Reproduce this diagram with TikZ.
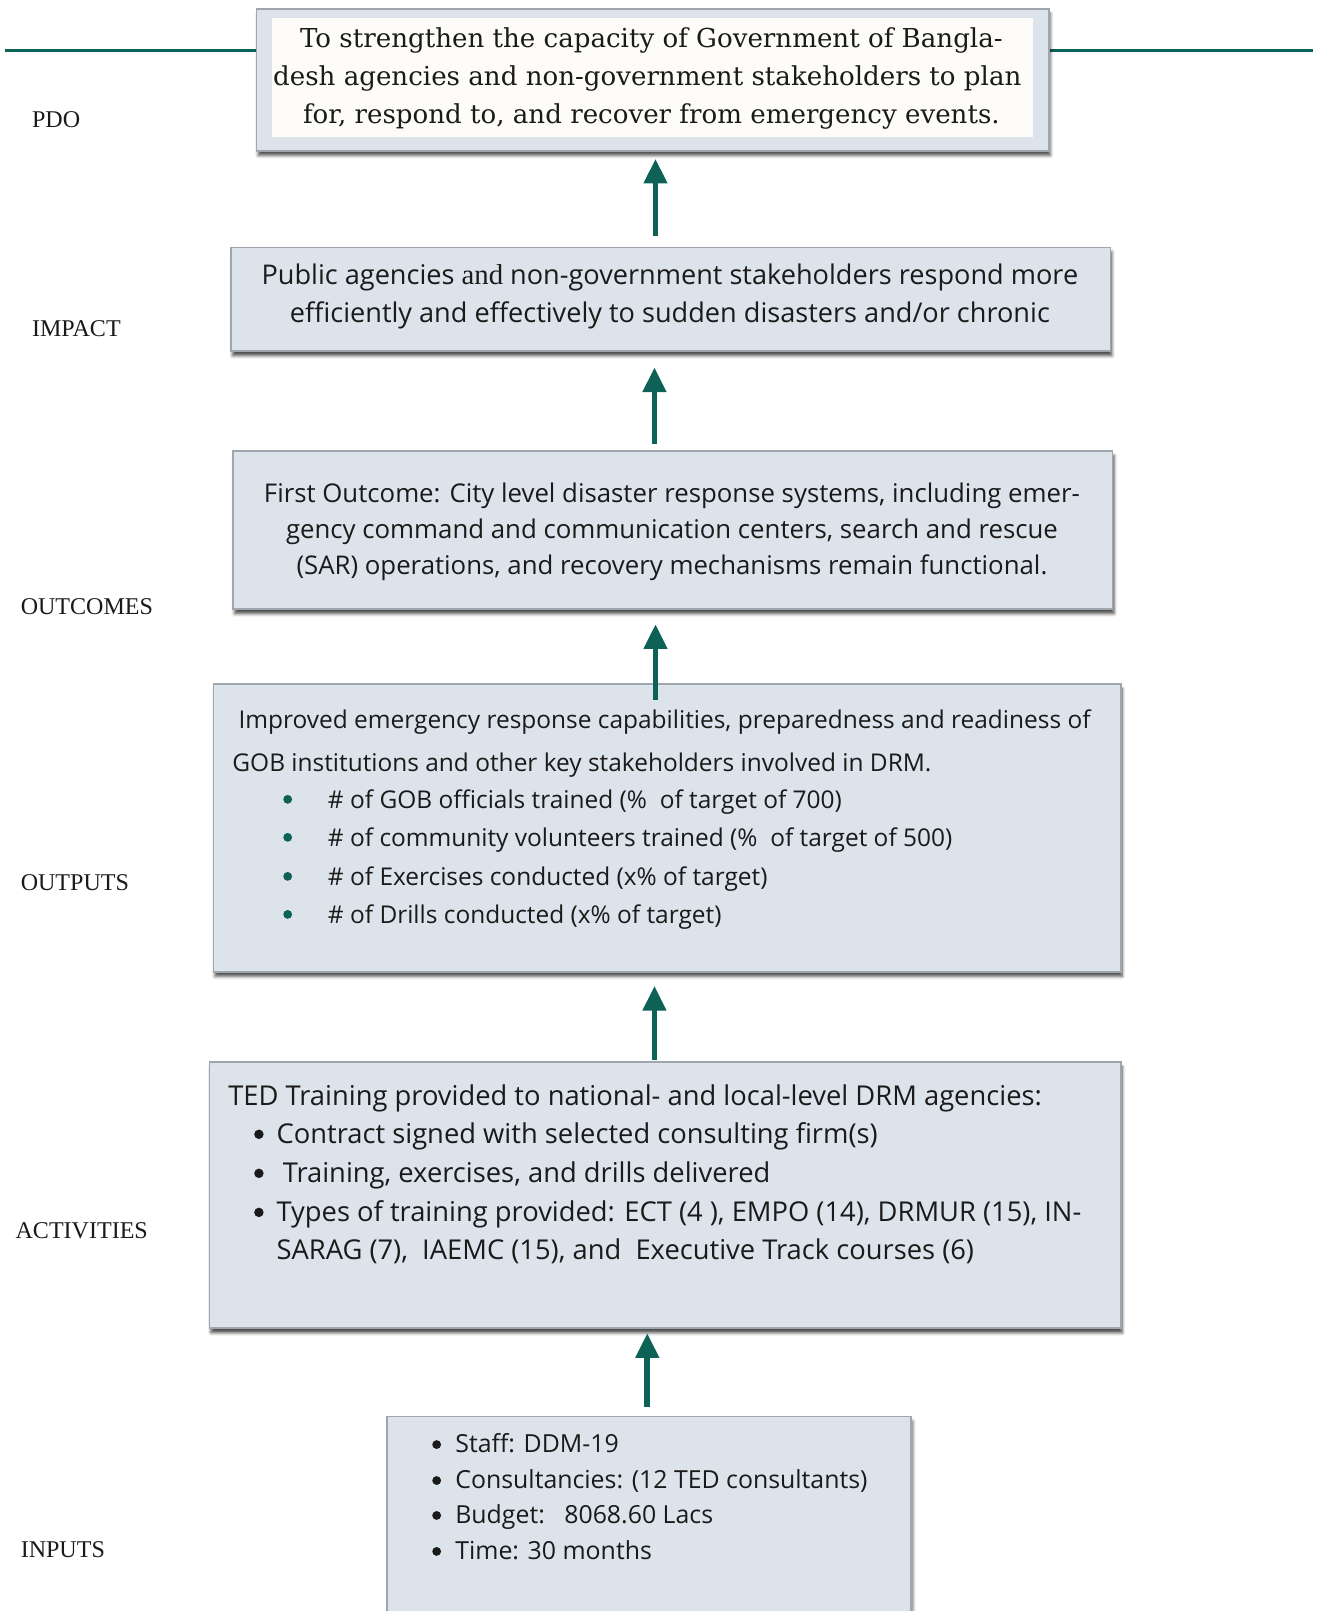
\documentclass[tikz,border=0pt]{standalone}
\usepackage{fontspec}
\setmainfont{Open Sans}
\newfontfamily\boxserif{DejaVu Serif}
\newfontfamily\labelserif{Liberation Serif}
\usetikzlibrary{arrows.meta,shadows.blur,calc}

\definecolor{ldteal}{HTML}{0E6157}
\definecolor{boxfill}{HTML}{DCE3EB}
\definecolor{boxedge}{HTML}{9EA7B0}
\definecolor{paper}{HTML}{FDFCF8}
\definecolor{ink}{HTML}{1A1A1A}

\tikzset{
  framebox/.style={draw=boxedge, line width=1.6pt, fill=boxfill, inner sep=0pt,
    anchor=north west,
    blur shadow={shadow xshift=1.5pt, shadow yshift=-4.5pt, shadow blur radius=3pt,
      shadow opacity=70}},
  uparrow/.style={draw=ldteal, line width=5.5pt,
    -{Triangle[width=22pt,length=24pt]}},
  levellabel/.style={anchor=base west, inner sep=0pt, text=ink,
    font=\labelserif\fontsize{23.4pt}{26pt}\selectfont},
  pdotext/.style={anchor=base, inner sep=0pt, text=ink,
    font=\boxserif\fontsize{25.4pt}{30pt}\selectfont},
  imptext/.style={inner sep=0pt, text=ink,
    font=\fontsize{26.4pt}{30pt}\selectfont},
  outctext/.style={inner sep=0pt, text=ink,
    font=\fontsize{25.1pt}{28pt}\selectfont},
  outptext/.style={inner sep=0pt, text=ink,
    font=\fontsize{23.8pt}{28pt}\selectfont},
  acttext/.style={inner sep=0pt, text=ink,
    font=\fontsize{26.6pt}{28pt}\selectfont},
  inptext/.style={inner sep=0pt, text=ink,
    font=\fontsize{24.2pt}{28pt}\selectfont},
}

\begin{document}
\begin{tikzpicture}[x=1pt,y=-1pt]
\useasboundingbox (0,0) rectangle (1283,1568);
\clip (0,0) rectangle (1283,1568);

% rule running across the top, behind the goal box
\draw[ldteal, line width=2.8pt] (5,49) -- (1278,49);

% level boxes
\node[framebox, minimum width=771pt, minimum height=138pt] (pdo) at (249,8) {};
\node[fill=paper, inner sep=0pt, anchor=north west, minimum width=740pt,
      minimum height=116pt] (pdoinner) at (265,17) {};
\node[framebox, minimum width=856pt, minimum height=101pt] (impact) at (224,240) {};
\node[framebox, minimum width=856pt, minimum height=154pt] (outcome) at (226,438) {};
\node[framebox, minimum width=883pt, minimum height=280pt] (outputs) at (207,665) {};
\node[framebox, minimum width=887pt, minimum height=259pt] (activities) at (203,1033) {};
\node[framebox, minimum width=510pt, minimum height=240pt] (inputs) at (376,1378) {};

% arrow positions
\coordinate (a1) at (638,0);
\coordinate (a2) at (637,0);
\coordinate (a3) at (638,0);
\coordinate (a4) at (637,0);
\coordinate (a5) at (630,0);

\draw[uparrow] ($(impact.north -| a1)+(0,-10)$) -- ($(pdo.south -| a1)+(0,7)$);
\draw[uparrow] ($(outcome.north -| a2)+(0,-6)$) -- ($(impact.south -| a2)+(0,15)$);
\draw[uparrow] ($(outputs.north -| a3)+(0,16)$) -- ($(outcome.south -| a3)+(0,14)$);
\draw[uparrow] ($(activities.north -| a4)+(0,-1)$) -- ($(outputs.south -| a4)+(0,13)$);
\draw[uparrow] ($(inputs.north -| a5)+(0,-9)$) -- ($(activities.south -| a5)+(0,4)$);

% level names
\node[levellabel] (lpdo) at (31,124) {PDO};
\node[levellabel] (limpact) at (31,328) {IMPACT};
\node[levellabel] (loutcomes) at (20,598) {OUTCOMES};
\node[levellabel] (loutputs) at (20,867) {OUTPUTS};
\node[levellabel] (lactivities) at (15,1205) {ACTIVITIES};
\node[levellabel] (linputs) at (20,1516) {INPUTS};

% goal statement
\node[pdotext] (p1) at (634,46) {To strengthen the capacity of Government of Bangla-};
\node[pdotext] (p2) at (630,83) {desh agencies and non-government stakeholders to plan};
\node[pdotext] (p3) at (634,120) {for, respond to, and recover from emergency events.};

% impact
\node[imptext, anchor=base] (i1) at (652,277) {Public agencies {\labelserif\fontsize{28pt}{30pt}\selectfont and} non-government stakeholders respond more};
\node[imptext, anchor=base] (i2) at (652,314) {efficiently and effectively to sudden disasters and/or chronic};

% outcome
\node[outctext, anchor=base] (o1) at (654,489) {First Outcome: City level disaster response systems, including emer-};
\node[outctext, anchor=base] (o2) at (654,524) {gency command and communication centers, search and rescue};
\node[outctext, anchor=base] (o3) at (654,559) {(SAR) operations, and recovery mechanisms remain functional.};

% outputs
\node[outptext, anchor=base west] (u1) at (232,709) {Improved emergency response capabilities, preparedness and readiness of};
\node[outptext, anchor=base west] (u2) at (226,751) {GOB institutions and other key stakeholders involved in DRM.};
\foreach \yy in {778,815,853,890} \fill[ldteal] (280,\yy) circle (4.3);
\node[outptext, anchor=base west] (u3) at (319,787) {\# of GOB officials trained (\%\ \ of target of 700)};
\node[outptext, anchor=base west] (u4) at (319,824) {\# of community volunteers trained (\%\ \ of target of 500)};
\node[outptext, anchor=base west] (u5) at (319,862) {\# of Exercises conducted (x\% of target)};
\node[outptext, anchor=base west] (u6) at (319,899) {\# of Drills conducted (x\% of target)};

% activities
\node[acttext, anchor=base west] (c1) at (222,1076) {TED Training provided to national- and local-level DRM agencies:};
\foreach \yy in {1104,1142,1180} \fill[ink] (252,\yy) circle (4.6);
\node[acttext, anchor=base west] (c2) at (269,1113) {Contract signed with selected consulting firm(s)};
\node[acttext, anchor=base west] (c3) at (275,1151) {Training, exercises, and drills delivered};
\node[acttext, anchor=base west] (c4) at (269,1189) {Types of training provided: ECT (4 ), EMPO (14), DRMUR (15), IN-};
\node[acttext, anchor=base west] (c5) at (269,1226) {SARAG (7),\ \ IAEMC (15), and\ \ Executive Track courses (6)};

% inputs
\foreach \yy in {1406,1441,1475,1510} \fill[ink] (425,\yy) circle (4.3);
\node[inptext, anchor=base west] (n1) at (443,1414) {Staff: DDM-19};
\node[inptext, anchor=base west] (n2) at (443,1449) {Consultancies: (12 TED consultants)};
\node[inptext, anchor=base west] (n3) at (443,1483) {Budget:\ \ \ 8068.60 Lacs};
\node[inptext, anchor=base west] (n4) at (443,1518) {Time: 30 months};
\end{tikzpicture}
\end{document}
